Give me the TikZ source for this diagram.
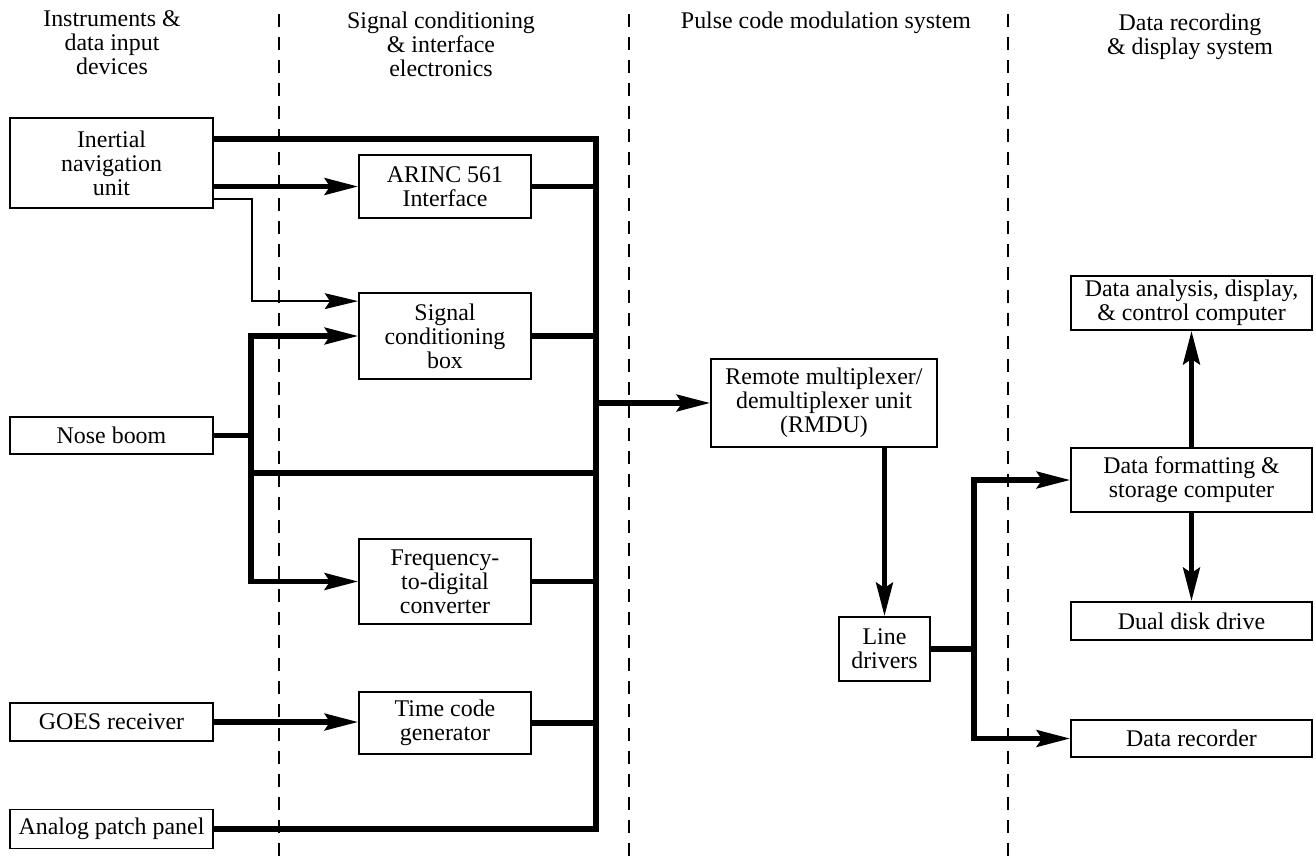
\documentclass[tikz,border=0pt]{standalone}
\usepackage{fontspec}
\setmainfont{Liberation Serif}
\usetikzlibrary{arrows.meta}

\begin{document}
\begin{tikzpicture}[x=0.02cm,y=-0.02cm,
	every node/.style={font=\fontsize{13.6}{13.6}\selectfont},
	unit/.style={draw,line width=1pt,align=center,inner sep=0pt},
	bus/.style={line width=3pt},
	feed/.style={bus,-{Stealth[length=19pt,width=9.5pt,inset=3pt]}},
	aux/.style={line width=1.1pt,-{Stealth[length=19pt,width=9pt,inset=3pt]}},
	border/.style={line width=0.9pt,dash pattern=on 7.4pt off 5.7pt}]
	\useasboundingbox (0,0) rectangle (1316,863);
	
	%column borders
	\foreach \x in {279,629,1008}
	{\draw[border] (\x,14)--(\x,863);}
	
	%headers
	\node[align=center] (hdin) at (112,43) {Instruments \&\\data input\\devices};
	\node[align=center] (hdsc) at (441,44) {Signal conditioning\\\& interface\\electronics};
	\node (hdpcm) at (826,23) {Pulse code modulation system};
	\node[align=center] (hdrec) at (1190,37) {Data recording\\\& display system};
	
	%instruments
	\node[unit,minimum width=4.06cm,minimum height=1.8cm] (ins) at (111.5,163) {Inertial\\navigation\\unit};
	\node[unit,minimum width=4.06cm,minimum height=0.74cm] (nose) at (111.5,435.5) {Nose boom};
	\node[unit,minimum width=4.06cm,minimum height=0.76cm] (goes) at (111.5,722) {GOES receiver};
	\node[unit,minimum width=4.06cm,minimum height=0.78cm] (patch) at (111.5,829) {Analog patch panel};
	
	%signal conditioning
	\node[unit,minimum width=3.44cm,minimum height=1.26cm] (arinc) at (445,186.5) {ARINC 561\\Interface};
	\node[unit,minimum width=3.44cm,minimum height=1.72cm] (sigbox) at (445,336) {Signal\\conditioning\\box};
	\node[unit,minimum width=3.44cm,minimum height=1.7cm] (freq) at (445,581.5) {Frequency-\\to-digital\\converter};
	\node[unit,minimum width=3.44cm,minimum height=1.24cm] (tcg) at (445,723) {Time code\\generator};
	
	%pcm system
	\node[unit,minimum width=4.52cm,minimum height=1.76cm] (rmdu) at (824,403) {Remote multiplexer/\\demultiplexer unit\\(RMDU)};
	\node[unit,minimum width=1.82cm,minimum height=1.28cm] (ldrv) at (884.5,649) {Line\\drivers};
	
	%recording and display
	\node[unit,minimum width=4.82cm,minimum height=1.08cm] (dacc) at (1191.5,303) {Data analysis, display,\\\& control computer};
	\node[unit,minimum width=4.82cm,minimum height=1.28cm] (dfsc) at (1191.5,480) {Data formatting \&\\storage computer};
	\node[unit,minimum width=4.82cm,minimum height=0.76cm] (ddd) at (1191.5,621) {Dual disk drive};
	\node[unit,minimum width=4.82cm,minimum height=0.74cm] (drec) at (1191.5,738.5) {Data recorder};
	
	%main bus
	\coordinate (bustop) at (596,139);
	\coordinate (busbot) at (596,829);
	\draw[bus] (bustop -| ins.east)--(bustop)--(busbot)--(patch.east);
	\draw[bus] (arinc.east)--(arinc.east -| bustop);
	\draw[bus] (sigbox.east)--(sigbox.east -| bustop);
	\draw[bus] (freq.east)--(freq.east -| bustop);
	\draw[bus] (tcg.east)--(tcg.east -| bustop);
	\draw[feed] (rmdu.west -| bustop)--(rmdu.west);
	
	%inputs
	\draw[feed] (ins.east |- arinc.west)--(arinc.west);
	\coordinate (tapbend) at (252,199);
	\draw[aux] (tapbend -| ins.east)--(tapbend) |- ([yshift=-0.18cm]sigbox.north west);
	\coordinate (nbj) at (251,473);
	\draw[bus] (nose.east)--(nose.east -| nbj);
	\draw[feed] (nbj) |- (sigbox.west);
	\draw[feed] (nbj) |- (freq.west);
	\draw[bus] (nbj)--(nbj -| bustop);
	\draw[feed] (goes.east)--(goes.east -| tcg.west);
	
	%outputs
	\draw[feed] (rmdu.south -| ldrv.north)--(ldrv.north);
	\coordinate (ldj) at (974,649);
	\draw[bus] (ldrv.east)--(ldj);
	\draw[feed] (ldj) |- (dfsc.west);
	\draw[feed] (ldj) |- (drec.west);
	\draw[feed] (dfsc.north)--(dacc.south);
	\draw[feed] (dfsc.south)--(ddd.north);
\end{tikzpicture}
\end{document}
